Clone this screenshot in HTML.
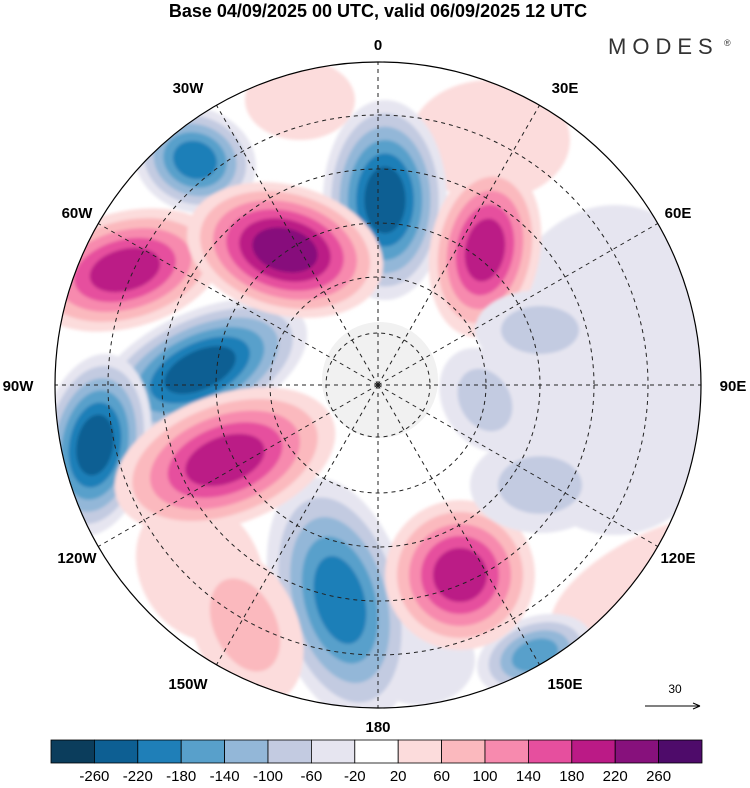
<!DOCTYPE html>
<html><head><meta charset="utf-8"><style>
body{margin:0;background:#fff;width:750px;height:783px;overflow:hidden;font-family:"Liberation Sans",sans-serif}
</style></head><body>
<svg width="750" height="783" viewBox="0 0 750 783" xmlns="http://www.w3.org/2000/svg">
<defs><clipPath id="disk"><circle cx="378" cy="385" r="323"/></clipPath>
<filter id="bl"><feGaussianBlur stdDeviation="1.5"/></filter></defs>
<text x="378" y="17" text-anchor="middle" font-size="18" font-weight="bold">Base 04/09/2025 00 UTC, valid 06/09/2025 12 UTC</text>
<text x="608" y="54" font-size="22" fill="#333" letter-spacing="6">MODES</text>
<text x="724" y="46" font-size="9" fill="#333">®</text>
<g clip-path="url(#disk)">
<rect x="0" y="0" width="750" height="783" fill="#fff"/>
<g id="blobs" filter="url(#bl)"></g>
<circle cx="380" cy="380" r="58" fill="#eeeeee" opacity="0.85"/>
<g id="grid" fill="none" stroke="#222" stroke-width="1" stroke-dasharray="4,4"></g>
</g>
<circle cx="378" cy="385" r="323" fill="none" stroke="#000" stroke-width="1.2"/>
<g id="lonlabels" font-size="15" font-weight="bold" text-anchor="middle"></g>
<g>
<text x="675" y="693" font-size="12" text-anchor="middle">30</text>
<line x1="645" y1="706" x2="700" y2="706" stroke="#000"/>
<path d="M700 706 l-7 -3 M700 706 l-7 3" stroke="#000"/>
</g>
<g id="cbar"></g>
</svg>
<script>
const colors=["#0b3d5c","#0d5f93","#1f7fb8","#58a0cb","#93b7d8","#c3cbe1","#e6e5f0","#ffffff","#fcdcdc","#fbb9be","#f78aae","#e64f9e","#bb1a86","#87117c","#4e0b6a"];
const tickLabels=["-260","-220","-180","-140","-100","-60","-20","20","60","100","140","180","220","260"];
// blobs: centre x,y, radii, rotation, peak colour index
const blobX=[615,490,640,150,300,200,420,195,385,200,95,340,535,125,285,485,225,460,245,540,540,485];
const blobY=[370,140,580,110,100,570,660,160,200,370,445,600,655,270,250,250,460,575,625,330,485,400];
const blobRx=[125,80,100,55,55,60,55,62,62,115,55,68,60,100,100,55,115,75,52,65,70,42];
const blobRy=[165,60,40,45,40,75,45,52,100,58,92,125,38,58,65,88,65,75,82,40,48,55];
const blobRot=[0,0,-30,20,0,-30,0,20,0,-25,10,-15,-20,-15,15,10,-20,0,-25,0,0,-30];
const blobPeak=[6,8,8,6,8,8,6,2,1,1,1,2,3,12,13,12,12,12,9,5,5,5];
const NS='http://www.w3.org/2000/svg';
const bg=document.getElementById('blobs');
for(let b=0;b<blobX.length;b++){
  const k=blobPeak[b];const n=Math.abs(k-7);const dir=k<7?-1:1;
  const g=document.createElementNS(NS,'g');
  
  
  g.setAttribute('transform',`rotate(${blobRot[b]} ${blobX[b]} ${blobY[b]})`);
  for(let j=1;j<=n;j++){
    const s=1-(j-1)/n*0.8;
    const e=document.createElementNS(NS,'ellipse');
    e.setAttribute('cx',blobX[b]);e.setAttribute('cy',blobY[b]);
    e.setAttribute('rx',blobRx[b]*s);e.setAttribute('ry',blobRy[b]*s);
    e.setAttribute('fill',colors[7+dir*j]);
    g.appendChild(e);
  }
  bg.appendChild(g);
}
const gr=document.getElementById('grid');
[52,108,162,216,270].forEach(r=>{const c=document.createElementNS(NS,'circle');c.setAttribute('cx',378);c.setAttribute('cy',385);c.setAttribute('r',r);
gr.appendChild(c);});
for(let a=0;a<360;a+=30){const t=a*Math.PI/180;const l=document.createElementNS(NS,'line');
l.setAttribute('x1',378);l.setAttribute('y1',385);l.setAttribute('x2',378+330*Math.sin(t));l.setAttribute('y2',385-330*Math.cos(t));
gr.appendChild(l);}
const lonNames=["0","30E","60E","90E","120E","150E","180","150W","120W","90W","60W","30W"];
const lonX=[378,565,678,733,678,565,378,188,77,18,77,188];
const lonY=[50,93,218,391,563,689,732,689,563,391,218,93];
const ll=document.getElementById('lonlabels');
lonNames.forEach((nm,i)=>{
const tx=document.createElementNS(NS,'text');tx.setAttribute('x',lonX[i]);tx.setAttribute('y',lonY[i]);
tx.textContent=nm;ll.appendChild(tx);});
const cb=document.getElementById('cbar');const x0=51,w=43.4;
colors.forEach((c,i)=>{const r=document.createElementNS(NS,'rect');r.setAttribute('x',x0+i*w);r.setAttribute('y',740);r.setAttribute('width',w);r.setAttribute('height',23);
r.setAttribute('fill',c);r.setAttribute('stroke','#000');r.setAttribute('stroke-width','0.8');
cb.appendChild(r);});
tickLabels.forEach((t,i)=>{const tx=document.createElementNS(NS,'text');tx.setAttribute('x',x0+(i+1)*w);tx.setAttribute('y',781);tx.setAttribute('text-anchor','middle');tx.setAttribute('font-size','15');
tx.textContent=t;cb.appendChild(tx);});
</script>
</body></html>
